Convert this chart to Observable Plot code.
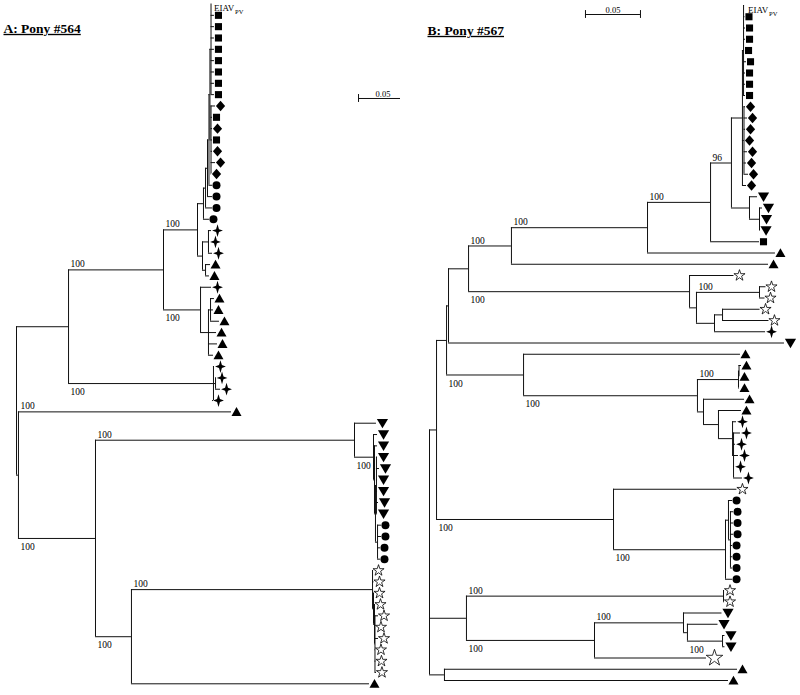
<!DOCTYPE html>
<html><head><meta charset="utf-8">
<script src="https://cdn.jsdelivr.net/npm/d3@7"></script>
<script src="https://cdn.jsdelivr.net/npm/@observablehq/plot@0.6"></script>
<style>
body{margin:0;background:#fff;}
#wrap{position:relative;width:800px;height:695px;overflow:hidden;}
#pa,#pb{position:absolute;top:0;}
#pa{left:0}#pb{left:400px}
</style></head><body>
<div id="wrap"><div id="pa"></div><div id="pb"></div></div>
<script>
// ---------------- DATA ----------------
const titleA = "A: Pony #564";
const titleB = "B: Pony #567";
const refLabel = ["EIAV", "PV"];
const scaleLabel = "0.05";
const scaleLength = 0.05;

// internal nodes of tree A: [id, parent, depth (substitutions/site)]
const nodesA = [
 ["R",null,0],["T","R",0.0531],["N2","R",0.0020],
 ["N163","T",0.1500],["NSp","T",0.2010],["NSp2","NSp",0.2031],
 ["N197","N163",0.1847],["N200","N163",0.1878],
 ["NTop","N197",0.1908],["C3","NTop",0.1929],["C2","C3",0.1949],["C1","C2",0.1964],["NB","C1",0.1974],["NB1","NB",0.1985],["NB2","NB",0.1985],
 ["NSpT","N197",0.1898],["NSp3","NSpT",0.1959],["NTr","NSpT",0.1929],
 ["NT","N200",0.1959],["NT2","NT",0.1980],
 ["N3","N2",0.0806],["N354","N3",0.3449],["NQ","N354",0.3643],["NQ2","NQ",0.3653],["NQ3","NQ2",0.3663],["NQ4","NQ3",0.3673],["NQC","NQ3",0.3684],
 ["N131","N3",0.1173],["NS","N131",0.3633],["NX","NS",0.3643],["NY","NX",0.3653],["NZ","NY",0.3658]
];
// leaves of tree A, top to bottom: [parent, depth, symbol]
const leavesA = [
 ["NB1",0.1985,"label"],
 ["NB1",0.2020,"sq"],["NB1",0.2020,"sq"],["NB1",0.2020,"sq"],["NB1",0.2020,"sq"],["NB1",0.2020,"sq"],["NB1",0.2020,"sq"],["NB1",0.2020,"sq"],["NB1",0.2020,"sq"],
 ["NB2",0.2031,"dia"],["NB2",0.2000,"sq"],["NB2",0.2000,"dia"],["NB2",0.2000,"sq"],["NB2",0.2000,"dia"],["NB2",0.2031,"dia"],["NB2",0.1990,"dia"],
 ["C1",0.2000,"cir"],["C2",0.2000,"cir"],["C3",0.2000,"cir"],["NTop",0.1969,"cir"],
 ["NSp3",0.1990,"spk"],["NSp3",0.1969,"spk"],["NSp3",0.2000,"spk"],
 ["NTr",0.1980,"tri"],["NTr",0.1969,"tri"],
 ["N200",0.1990,"spk"],
 ["NT2",0.2020,"tri"],["NT2",0.2010,"tri"],["NT2",0.2071,"tri"],["NT",0.2041,"tri"],["NT",0.2051,"tri"],["NT",0.2010,"tri"],
 ["NSp",0.2020,"spk"],["NSp2",0.2036,"spk"],["NSp2",0.2082,"spk"],["NSp",0.2000,"spk"],
 ["N2",0.2194,"tri"],
 ["N354",0.3673,"dtri"],["NQ",0.3684,"dtri"],["NQ2",0.3684,"dtri"],["NQ4",0.3684,"dtri"],["NQ4",0.3704,"dtri"],["NQ4",0.3684,"dtri"],["NQ4",0.3684,"dtri"],["NQ4",0.3694,"dtri"],["NQ4",0.3684,"dtri"],
 ["NQC",0.3724,"cir"],["NQC",0.3724,"cir"],["NQC",0.3714,"cir"],["NQC",0.3714,"cir"],
 ["NS",0.3638,"star"],["NS",0.3648,"star"],["NX",0.3648,"star"],["NY",0.3658,"star"],["NZ",0.3694,"star"],["NZ",0.3663,"star"],["NZ",0.3694,"star"],["NZ",0.3663,"star"],["NZ",0.3668,"star"],["NZ",0.3673,"star"],
 ["N131",0.3602,"tri"]
];
// bootstrap values of tree A: [node, value, side]
const bootA = [
 ["N163","100","above"],["NSp","100","below"],["N197","100","above"],["N200","100","below"],
 ["leaf36","100","above"],["N3","100","below"],["N354","100","above"],["N131","100","below"],
 ["NS","100","above"],["NQ","100","below"]
];

// internal nodes of tree B
const nodesB = [
 ["RB",null,0],["N436","RB",0.0064],["N466","RB",0.0336],["N444","RB",0.0136],
 ["N446","N436",0.0155],["N613","N436",0.1673],
 ["N448","N446",0.0173],["N523","N446",0.0855],
 ["N468","N448",0.0355],
 ["N511","N468",0.0745],["N689","N468",0.2364],
 ["N647","N511",0.1982],["N710","N647",0.2555],["N731","N710",0.2745],
 ["N743","N731",0.2845],["N743a","N743",0.2855],["N743b","N743",0.2859],
 ["N749","N731",0.2909],["N759","N749",0.3000],
 ["N696","N689",0.2427],["N759s","N696",0.3000],["N714","N696",0.2591],["N722s","N714",0.2664],
 ["N697","N523",0.2436],["N739","N697",0.2809],["N741","N739",0.2814],["N706","N697",0.2491],["N718","N706",0.2627],["N733","N718",0.2755],["N734","N733",0.2764],
 ["N725","N613",0.2691],["N729","N725",0.2718],["N730","N729",0.2736],
 ["N725b","N466",0.2673],["N594","N466",0.1500],["N683","N594",0.2309],["N687","N683",0.2345],["N722d","N687",0.2664]
];
// leaves of tree B, top to bottom
const leavesB = [
 ["N743a",0.2864,"label"],
 ["N743a",0.2868,"sq"],["N743a",0.2873,"sq"],["N743a",0.2873,"sq"],["N743a",0.2864,"sq"],["N743a",0.2882,"sq"],["N743a",0.2873,"sq"],["N743a",0.2873,"sq"],["N743a",0.2873,"sq"],
 ["N743b",0.2873,"dia"],["N743b",0.2891,"dia"],["N743b",0.2873,"dia"],["N743b",0.2864,"dia"],["N743b",0.2891,"dia"],["N743b",0.2882,"dia"],["N743b",0.2900,"dia"],
 ["N743",0.2882,"dia"],
 ["N749",0.2982,"dtri"],["N759",0.3027,"dtri"],["N759",0.3009,"dtri"],["N759",0.3005,"dtri"],
 ["N710",0.3000,"sq"],
 ["N647",0.3145,"tri"],
 ["N511",0.3082,"tri"],
 ["N689",0.2768,"star"],["N759s",0.3059,"star"],["N759s",0.3050,"star"],["N722s",0.3005,"star"],["N722s",0.3086,"star"],["N714",0.3055,"spk"],
 ["N448",0.3227,"dtri"],
 ["N523",0.2827,"tri"],
 ["N741",0.2836,"tri"],["N741",0.2818,"tri"],["N739",0.2818,"tri"],
 ["N706",0.2864,"tri"],["N718",0.2836,"tri"],
 ["N733",0.2791,"spk"],["N734",0.2827,"spk"],["N734",0.2782,"spk"],["N734",0.2809,"spk"],["N734",0.2773,"spk"],["N734",0.2845,"spk"],
 ["N613",0.2795,"star"],
 ["N729",0.2755,"cir"],["N730",0.2764,"cir"],["N730",0.2764,"cir"],["N730",0.2764,"cir"],["N730",0.2755,"cir"],["N730",0.2755,"cir"],["N730",0.2755,"cir"],["N725",0.2755,"cir"],
 ["N725b",0.2682,"star"],["N725b",0.2682,"star"],
 ["N683",0.2659,"dtri"],["N687",0.2623,"dtri"],["N722d",0.2686,"dtri"],["N722d",0.2686,"dtri"],
 ["N594",0.2518,"starL"],
 ["N444",0.2800,"tri"],["N444",0.2718,"tri"]
];
const bootB = [
 ["N511","100","above"],["N689","100","below"],["N647","100","above"],["N710","100","above"],["N731","96","above"],
 ["N759s","100","above"],["N523","100","below"],["N697","100","below"],["N739","100","above"],
 ["N613","100","below"],["N725","100","below"],["N725b","100","above"],["N594","100","below"],
 ["N683","100","above"],["N722d","100","below"]
];

// ---------------- LAYOUT ----------------
function buildTree(internal, leaves) {
  const nodes = new Map();
  for (const [id, parent, depth] of internal) nodes.set(id, {id, parent, depth, children: []});
  const leafRows = leaves.map(([parent, depth, sym], i) => {
    const n = {id: "leaf" + i, parent, depth, sym, i, y: i, children: []};
    nodes.set(n.id, n); return n;
  });
  for (const n of nodes.values()) if (n.parent != null) nodes.get(n.parent).children.push(n);
  const root = [...nodes.values()].find(n => n.parent == null);
  (function gy(n) {
    if (!n.children.length) return n.y;
    const ys = n.children.map(gy);
    n.y1 = Math.min(...ys); n.y2 = Math.max(...ys); n.y = (n.y1 + n.y2) / 2;
    return n.y;
  })(root);
  const h = [], v = [];
  for (const n of nodes.values()) {
    if (n.parent != null) h.push({y: n.y, x1: nodes.get(n.parent).depth, x2: n.depth});
    if (n.children.length) v.push({x: n.depth, y1: n.y1, y2: n.y2});
  }
  return {nodes, leaves: leafRows, h, v};
}

const serif = "Liberation Serif";
const sc = s => Math.sqrt(s / Math.PI);
const SYM = {
  sq: d3.symbolSquare,
  cir: d3.symbolCircle,
  star: d3.symbolStar,
  dia: {draw(c, s){const r=sc(s); c.moveTo(0,-1.3*r); c.lineTo(1.15*r,0); c.lineTo(0,1.3*r); c.lineTo(-1.15*r,0); c.closePath();}},
  tri: {draw(c, s){const r=sc(s); c.moveTo(0,-1.2*r); c.lineTo(1.25*r,1.0*r); c.lineTo(-1.25*r,1.0*r); c.closePath();}},
  dtri: {draw(c, s){const r=sc(s); c.moveTo(0,1.2*r); c.lineTo(1.3*r,-1.0*r); c.lineTo(-1.3*r,-1.0*r); c.closePath();}},
  spk: {draw(c, s){const r=sc(s), a=0.36*r; c.moveTo(0,-1.6*r); c.lineTo(a,-a); c.lineTo(1.35*r,0); c.lineTo(a,a); c.lineTo(0,1.6*r); c.lineTo(-a,a); c.lineTo(-1.35*r,0); c.lineTo(-a,-a); c.closePath();}}
};

function panel(internal, leaves, boot, o) {
  const t = buildTree(internal, leaves);
  const bootRows = boot.map(([id, text, side]) => {
    const n = t.nodes.get(id);
    return {x: t.nodes.get(n.parent).depth, y: n.y, text, side};
  });
  const L = t.leaves;
  const dot = (sym, r, dx, extra = {}) => Plot.dot(L.filter(d => d.sym === sym),
    {x: "depth", y: "i", symbol: SYM[sym === "starL" ? "star" : sym], r, dx, fill: "#000", stroke: "none", ...extra});
  const sb = [{x: o.sbx, y: o.sby}];
  const sbEnds = [{x: o.sbx}, {x: o.sbx + scaleLength}];
  const ref = L.filter(d => d.sym === "label");
  return Plot.plot({
    width: 400, height: 695, margin: 0,
    x: {domain: [0, 1], range: [o.x0, o.x0 + o.k], axis: null},
    y: {domain: [0, 60], range: o.yr, axis: null},
    style: {background: "transparent", color: "#000"},
    marks: [
      Plot.ruleY(t.h, {y: "y", x1: "x1", x2: "x2", stroke: "#111", strokeWidth: 1}),
      Plot.ruleX(t.v, {x: "x", y1: "y1", y2: "y2", stroke: "#111", strokeWidth: 1}),
      dot("sq", 4, 4),
      dot("dia", 4, 5),
      dot("cir", 4, 4),
      dot("tri", 4, 5),
      dot("dtri", 4.3, 6),
      dot("spk", 4, 6),
      dot("star", 3.5, 5.5, {fill: "#fff", stroke: "#000", strokeWidth: 0.8}),
      dot("starL", 5.2, 8, {fill: "#fff", stroke: "#000", strokeWidth: 0.8}),
      Plot.text(bootRows.filter(d => d.side === "above"), {x: "x", y: "y", text: "text", dx: 2, dy: -5.5, textAnchor: "start", fontFamily: serif, fontSize: 9.5}),
      Plot.text(bootRows.filter(d => d.side === "below"), {x: "x", y: "y", text: "text", dx: 2, dy: 8.5, textAnchor: "start", fontFamily: serif, fontSize: 9.5}),
      Plot.ruleY(sb, {y: "y", x1: "x", x2: d => d.x + scaleLength, stroke: "#111", strokeWidth: 1}),
      Plot.ruleX(sbEnds, {x: "x", y1: o.sby - 0.35, y2: o.sby + 0.35, stroke: "#111", strokeWidth: 1}),
      Plot.text(sb, {x: d => d.x + scaleLength / 2, y: "y", text: () => scaleLabel, dy: -4, fontFamily: serif, fontSize: 8.5}),
      Plot.text(ref, {x: "depth", y: "i", text: () => refLabel[0], dx: o.refDx, dy: 4.5, textAnchor: "start", fontFamily: serif, fontSize: 9}),
      Plot.text(ref, {x: "depth", y: "i", text: () => refLabel[1], dx: o.refDx + 21, dy: 8, textAnchor: "start", fontFamily: serif, fontSize: 6.5}),
      Plot.text([o.title], {frameAnchor: "top-left", dx: o.tdx, dy: o.tdy, textAnchor: "start", lineAnchor: "middle", fontFamily: serif, fontWeight: "bold", fontSize: 13.5})
    ]
  });
}

const svgA = panel(nodesA, leavesA, bootA, {x0: 16, k: 980, yr: [3.5, 683.3], sbx: 0.3490, sby: 8.34, refDx: 3, title: titleA, tdx: 3, tdy: 28});
const svgB = panel(nodesB, leavesB, bootB, {x0: 29, k: 1100, yr: [5, 680], sbx: 0.1418, sby: 0.8, refDx: 3.5, title: titleB, tdx: 27, tdy: 30});
for (const s of [svgA, svgB]) {
  s.querySelectorAll("text").forEach(t => { if (/Pony/.test(t.textContent)) t.style.textDecoration = "underline"; });
}
document.getElementById("pa").appendChild(svgA);
document.getElementById("pb").appendChild(svgB);
</script>
</body></html>
